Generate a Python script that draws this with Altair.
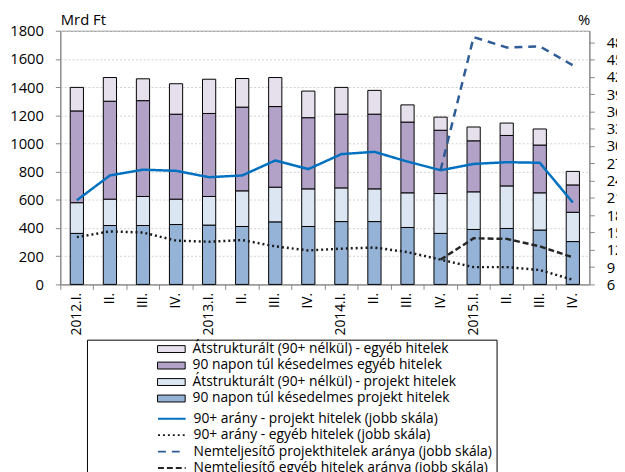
import altair as alt
import pandas as pd

quarters = ["2012.I.", "2012.II.", "2012.III.", "2012.IV.",
            "2013.I.", "2013.II.", "2013.III.", "2013.IV.",
            "2014.I.", "2014.II.", "2014.III.", "2014.IV.",
            "2015.I.", "2015.II.", "2015.III.", "2015.IV."]

proj_90 = [362, 418, 418, 425, 421, 411, 444, 411, 446, 446, 404, 362, 390, 397, 386, 304]
proj_restr = [218, 187, 206, 180, 203, 253, 246, 267, 239, 232, 246, 283, 267, 302, 264, 208]
other_90 = [651, 695, 680, 603, 589, 594, 572, 505, 523, 530, 502, 449, 362, 358, 339, 194]
other_restr = [167, 168, 155, 216, 243, 203, 206, 189, 190, 169, 122, 93, 98, 88, 114, 96]

ratio_proj_90 = [20.6, 24.9, 25.9, 25.7, 24.6, 24.9, 27.5, 26.0, 28.6, 29.0, 27.3, 25.8, 26.9, 27.2, 27.1, 20.2]
ratio_other_90 = [14.2, 15.2, 15.0, 13.6, 13.4, 13.7, 12.6, 11.9, 12.2, 12.4, 11.6, 10.3, 9.0, 9.0, 8.5, 6.8]
npl_quarters = ["2014.IV.", "2015.I.", "2015.II.", "2015.III.", "2015.IV."]
npl_proj = [25.8, 48.9, 47.1, 47.3, 44.0]
npl_other = [10.3, 14.0, 13.9, 12.6, 10.7]

bar_series = ["Átstrukturált (90+ nélkül) - egyéb hitelek",
              "90 napon túl késedelmes egyéb hitelek",
              "Átstrukturált (90+ nélkül) - projekt hitelek",
              "90 napon túl késedelmes projekt hitelek"]
bar_colors = ["#E6E0EC", "#B3A2C7", "#DCE6F2", "#95B3D7"]

line_series = ["90+ arány - projekt hitelek (jobb skála)",
               "90+ arány - egyéb hitelek (jobb skála)",
               "Nemteljesítő projekthitelek aránya (jobb skála)",
               "Nemteljesítő egyéb hitelek aránya (jobb skála)"]
line_colors = ["#0070C0", "#1A1A1A", "#2E5C96", "#262626"]
line_dashes = [[1, 0], [2, 3], [8, 6], [6, 3]]

rows = []
stack_vals = [proj_90, proj_restr, other_90, other_restr]
stack_names = [bar_series[3], bar_series[2], bar_series[1], bar_series[0]]
for i, q in enumerate(quarters):
    for k, (name, vals) in enumerate(zip(stack_names, stack_vals)):
        rows.append({"q": q, "series": name, "value": vals[i], "ord": k})
bar_df = pd.DataFrame(rows)

lrows = []
for i, q in enumerate(quarters):
    lrows.append({"q": q, "series": line_series[0], "value": ratio_proj_90[i]})
    lrows.append({"q": q, "series": line_series[1], "value": ratio_other_90[i]})
for i, q in enumerate(npl_quarters):
    lrows.append({"q": q, "series": line_series[2], "value": npl_proj[i]})
    lrows.append({"q": q, "series": line_series[3], "value": npl_other[i]})
line_df = pd.DataFrame(lrows)

FONT = "Open Sans"
label_expr = "indexof(datum.value, '.I.') > 0 ? datum.value : slice(datum.value, 5)"
x_axis = alt.Axis(title=None, labelExpr=label_expr, labelAngle=270, labelFontSize=14,
                  tickSize=5, labelPadding=3, grid=False, bandPosition=0,
                  domainColor="#868686", tickColor="#868686", labelColor="black")
x_enc = alt.X("q:N", sort=quarters,
              scale=alt.Scale(domain=quarters, paddingInner=0, paddingOuter=0),
              axis=x_axis)

nb = "\u00a0"
bars = alt.Chart(bar_df).mark_bar(stroke="black", strokeWidth=1,
                                  width=alt.RelativeBandSize(0.4)).encode(
    x=x_enc,
    y=alt.Y("value:Q", stack="zero",
            scale=alt.Scale(domain=[0, 1800], nice=False),
            axis=alt.Axis(title="Mrd Ft", titleAngle=0, titleX=0, titleY=-6,
                          titleAlign="left", titleBaseline="alphabetic",
                          titleFontSize=15, titleFontWeight="normal", format="d",
                          values=list(range(0, 1801, 200)), labelFontSize=15,
                          labelPadding=12, tickSize=5, grid=True,
                          gridColor="#D0D0D0", gridDash=[2, 2],
                          domainColor="#868686", tickColor="#868686",
                          labelColor="black")),
    fill=alt.Fill("series:N",
                  scale=alt.Scale(domain=bar_series, range=bar_colors),
                  legend=alt.Legend(orient="none", legendX=27, legendY=311,
                                    title=None, symbolType="M-2,-0.5H2V0.5H-2Z",
                                    symbolSize=196, symbolStrokeColor="black",
                                    symbolStrokeWidth=1, symbolOffset=74,
                                    labelFontSize=14, labelColor="black",
                                    labelOffset=14, rowPadding=1.7, padding=4,
                                    labelLimit=600)),
    order=alt.Order("ord:Q"),
)

pad_expr = "datum.label + '" + nb * 22 + "'"
line_legend = alt.Legend(orient="none", legendX=27, legendY=313,
                         title=[nb, nb, nb, nb],
                         titleFontSize=14, titleLineHeight=16, titlePadding=6,
                         titleLimit=1000,
                         symbolType="M-2,0H2", symbolSize=196, symbolStrokeWidth=2,
                         symbolOffset=74, labelFontSize=14, labelColor="black",
                         labelOffset=14, rowPadding=1.7, padding=4, labelLimit=800,
                         labelExpr=pad_expr, strokeColor="black")

lines = alt.Chart(line_df).mark_line(strokeWidth=2.5).encode(
    x=x_enc,
    y=alt.Y("value:Q",
            scale=alt.Scale(domain=[6, 50], nice=False, zero=False),
            axis=alt.Axis(orient="right", title="%", titleAngle=0, titleX=-12,
                          titleY=-6, titleAlign="left", titleBaseline="alphabetic",
                          titleFontSize=15, titleFontWeight="normal",
                          values=list(range(6, 49, 3)), labelFontSize=15,
                          labelPadding=12, tickSize=5, grid=False,
                          domainColor="#868686", tickColor="#868686",
                          labelColor="black")),
    stroke=alt.Stroke("series:N", scale=alt.Scale(domain=line_series, range=line_colors),
                      legend=line_legend),
    strokeDash=alt.StrokeDash("series:N",
                              scale=alt.Scale(domain=line_series, range=line_dashes),
                              legend=line_legend),
)

chart = alt.layer(bars, lines).resolve_scale(
    y="independent"
).properties(
    width=536, height=257,
    autosize=alt.AutoSizeParams(type="none"),
    padding={"left": 53, "top": 20, "right": 28, "bottom": 187},
).configure(font=FONT).configure_view(
    stroke="#868686", strokeWidth=1
)

chart.save("out.html", embed_options={"renderer": "svg", "actions": False})
